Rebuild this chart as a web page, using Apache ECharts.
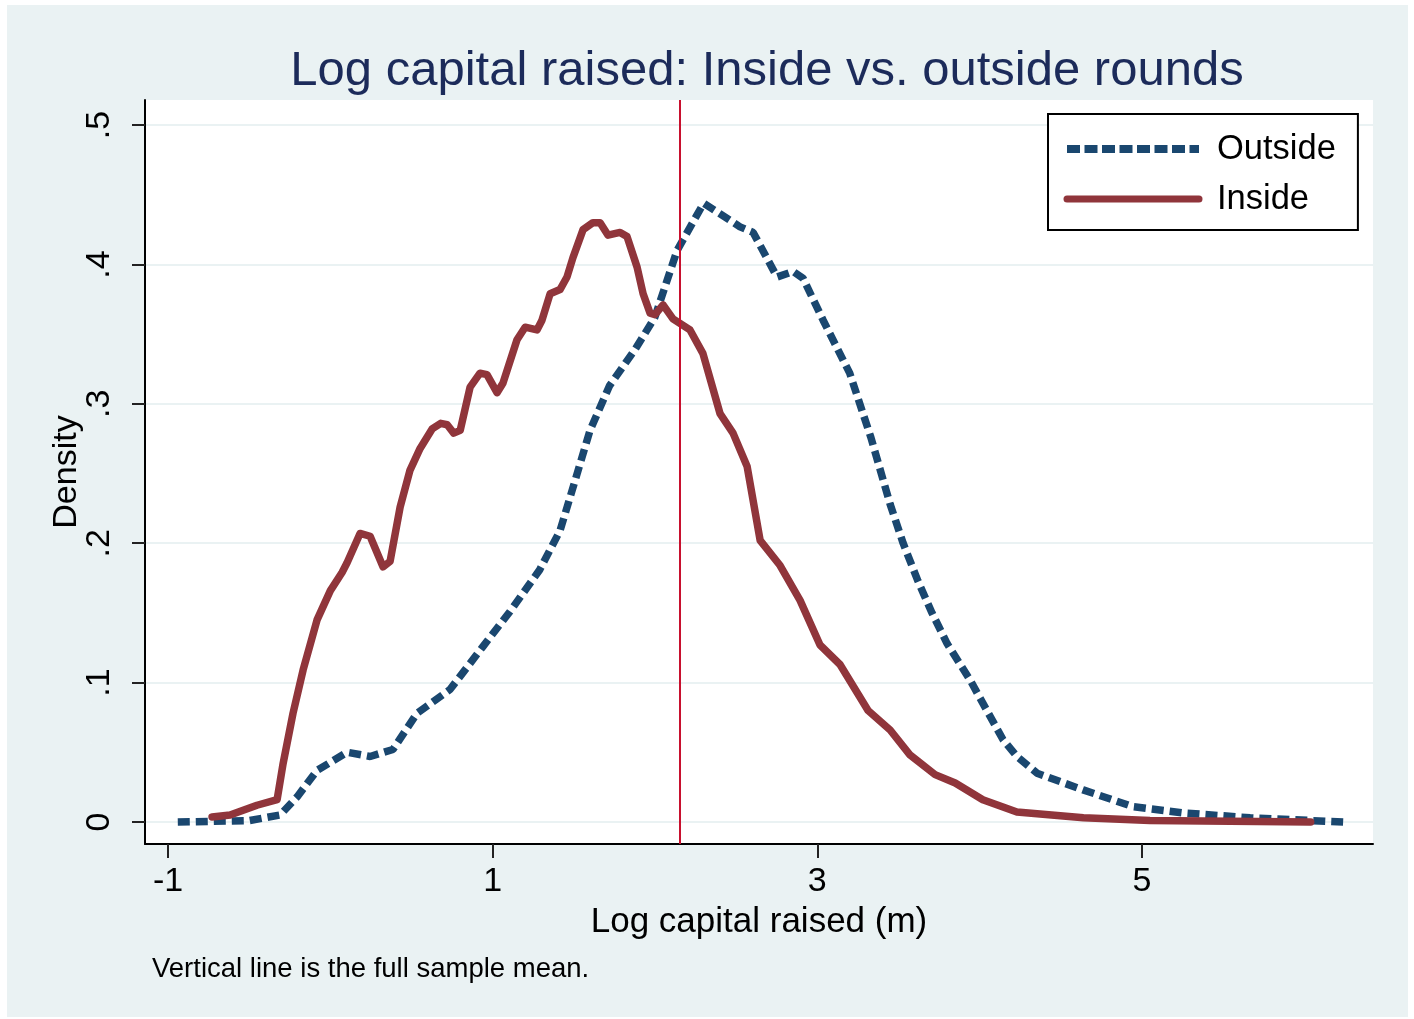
<!DOCTYPE html>
<html>
<head>
<meta charset="utf-8">
<script src="https://cdn.jsdelivr.net/npm/echarts@6/dist/echarts.min.js"></script>
<style>
  html, body { margin: 0; padding: 0; background: #ffffff; }
  #chart { width: 1414px; height: 1019px; }
</style>
</head>
<body>
<div id="chart"></div>
<script>
// tick labels
var xTicks = [-1, 1, 3, 5];
var yTicks = [0, 0.1, 0.2, 0.3, 0.4, 0.5];
var yTickLabels = ['0', '.1', '.2', '.3', '.4', '.5'];

// full sample mean (vertical line)
var sampleMean = 2.148;

// kernel density, outside rounds
var outsideX = [-0.94, -0.5, -0.31, -0.205, -0.082, 0.103, 0.245, 0.386, 0.534, 0.737, 0.941, 1.107, 1.29, 1.415, 1.508, 1.60, 1.72, 1.877, 1.999, 2.136, 2.30, 2.524, 2.605, 2.752, 2.851, 2.913, 3.036, 3.20, 3.33, 3.449, 3.529, 3.62, 3.707, 3.80, 3.941, 4.045, 4.145, 4.23, 4.354, 4.638, 4.946, 5.254, 5.667, 6.24];
var outsideY = [0, 0.001, 0.005, 0.018, 0.037, 0.050, 0.047, 0.052, 0.078, 0.095, 0.126, 0.151, 0.181, 0.209, 0.245, 0.281, 0.313, 0.339, 0.362, 0.410, 0.444, 0.427, 0.423, 0.391, 0.395, 0.390, 0.360, 0.322, 0.276, 0.228, 0.200, 0.173, 0.150, 0.128, 0.102, 0.080, 0.059, 0.047, 0.035, 0.023, 0.011, 0.0065, 0.003, 0];

// kernel density, inside rounds
var insideX = [-0.729, -0.618, -0.452, -0.328, -0.291, -0.230, -0.168, -0.082, 0.0, 0.072, 0.103, 0.183, 0.245, 0.325, 0.368, 0.43, 0.491, 0.553, 0.627, 0.68, 0.72, 0.76, 0.80, 0.861, 0.922, 0.965, 1.027, 1.064, 1.15, 1.20, 1.273, 1.304, 1.354, 1.415, 1.458, 1.495, 1.557, 1.618, 1.662, 1.711, 1.785, 1.828, 1.890, 1.927, 1.97, 2.0, 2.05, 2.111, 2.216, 2.296, 2.401, 2.481, 2.568, 2.648, 2.771, 2.894, 3.017, 3.14, 3.313, 3.449, 3.572, 3.726, 3.85, 4.02, 4.23, 4.64, 5.05, 6.04];
var insideY = [0.0036, 0.005, 0.012, 0.016, 0.042, 0.078, 0.109, 0.145, 0.166, 0.179, 0.186, 0.207, 0.205, 0.183, 0.187, 0.226, 0.2525, 0.268, 0.282, 0.286, 0.285, 0.279, 0.281, 0.312, 0.322, 0.321, 0.308, 0.315, 0.346, 0.355, 0.353, 0.360, 0.379, 0.382, 0.391, 0.405, 0.425, 0.430, 0.430, 0.421, 0.423, 0.420, 0.398, 0.379, 0.365, 0.364, 0.371, 0.361, 0.353, 0.336, 0.293, 0.279, 0.255, 0.202, 0.184, 0.159, 0.127, 0.113, 0.080, 0.066, 0.048, 0.034, 0.028, 0.016, 0.0072, 0.003, 0.001, 0];

function pairs(xs, ys) {
  return xs.map(function (x, i) { return [x, ys[i]]; });
}

var font = '"Liberation Sans", Arial, Helvetica, sans-serif';
var chart = echarts.init(document.getElementById('chart'));

chart.setOption({
  animation: false,
  backgroundColor: '#ffffff',
  textStyle: { fontFamily: font },
  graphic: [
    { type: 'rect', z: -10, shape: { x: 7, y: 5, width: 1401, height: 1012 }, style: { fill: '#eaf2f3' } },
    { type: 'text', left: 152, top: 955, style: { text: 'Vertical line is the full sample mean.', font: '27.5px ' + font, fill: '#000000' } }
  ],
  title: {
    text: 'Log capital raised: Inside vs. outside rounds',
    left: 762,
    top: 42,
    textAlign: 'center',
    textStyle: { fontSize: 49, fontWeight: 'normal', color: '#1c2b5a', fontFamily: font }
  },
  legend: {
    orient: 'vertical',
    left: 1048,
    top: 114,
    padding: [16, 22, 12, 15],
    itemGap: 12,
    itemWidth: 132,
    itemHeight: 20,
    backgroundColor: '#ffffff',
    borderColor: '#000000',
    borderWidth: 2,
    borderRadius: 0,
    itemStyle: { color: 'rgba(0,0,0,0)', borderWidth: 0 },
    textStyle: { fontSize: 34.5, color: '#000000', lineHeight: 38, padding: [0, 0, 0, 13], fontFamily: font },
    data: [
      { name: 'Outside', lineStyle: { width: 8, type: [13, 4.5], color: '#1a476f' } },
      { name: 'Inside', lineStyle: { width: 7, type: 'solid', color: '#90353b' } }
    ]
  },
  grid: {
    left: 145, right: 41, top: 100, bottom: 175,
    show: true, backgroundColor: '#ffffff', borderWidth: 0
  },
  xAxis: {
    type: 'value',
    min: -1.142,
    max: 6.424,
    name: 'Log capital raised (m)',
    nameLocation: 'middle',
    nameGap: 61,
    nameTextStyle: { fontSize: 35, color: '#000000' },
    axisLine: { onZero: false, lineStyle: { color: '#000000', width: 2 } },
    axisTick: { show: true, length: 14, lineStyle: { color: '#222222', width: 2 }, customValues: xTicks },
    axisLabel: { customValues: xTicks, fontSize: 34, color: '#000000', margin: 21 },
    splitLine: { show: false }
  },
  yAxis: {
    type: 'value',
    min: -0.0158,
    max: 0.518,
    name: 'Density',
    nameLocation: 'middle',
    nameGap: 61,
    nameMoveOverlap: false,
    nameTextStyle: { fontSize: 34, color: '#000000' },
    axisLine: { show: true, onZero: false, lineStyle: { color: '#000000', width: 2 } },
    axisTick: { show: true, length: 13, lineStyle: { color: '#222222', width: 2 }, customValues: yTicks },
    axisLabel: {
      customValues: yTicks, rotate: 90, fontSize: 34, color: '#000000', margin: 28,
      formatter: function (v) { return yTickLabels[yTicks.indexOf(Math.round(v * 10) / 10)]; }
    },
    splitLine: { show: true, lineStyle: { color: '#eaf2f3', width: 2 } }
  },
  series: [
    {
      name: 'Outside',
      type: 'line',
      symbol: 'none',
      data: pairs(outsideX, outsideY),
      lineStyle: { color: '#1a476f', width: 7.5, type: [12, 6] },
      itemStyle: { color: '#1a476f' },
      z: 3
    },
    {
      name: 'Inside',
      type: 'line',
      symbol: 'none',
      data: pairs(insideX, insideY),
      lineStyle: { color: '#90353b', width: 7.5, cap: 'round', join: 'round' },
      itemStyle: { color: '#90353b' },
      z: 4,
      markLine: {
        silent: true,
        symbol: 'none',
        label: { show: false },
        lineStyle: { color: '#c8102e', width: 2, type: 'solid' },
        data: [{ xAxis: sampleMean }]
      }
    }
  ]
});
</script>
</body>
</html>
